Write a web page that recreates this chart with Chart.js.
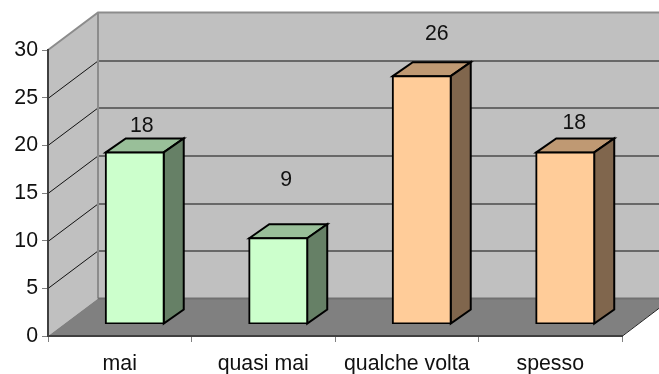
<!DOCTYPE html>
<html><head><meta charset="utf-8">
<script src="https://cdn.jsdelivr.net/npm/chart.js@4"></script>
<style>html,body{margin:0;padding:0;background:#fff}canvas{display:block}</style>
</head><body><canvas id="c" width="659" height="374"></canvas>
<script>
const categories = ["mai", "quasi mai", "qualche volta", "spesso"];
const values = [18, 9, 26, 18];
const frontColors = ["#CCFFCC", "#CCFFCC", "#FFCC99", "#FFCC99"];
const topColors = ["#99BF99", "#99BF99", "#BF9973", "#BF9973"];
const sideColors = ["#668066", "#668066", "#80664D", "#80664D"];
const labelLifts = [26, 58, 42, 29];
const labelShifts = [7, 8, 15, 9];

const wall = {dx: 50, dy: -37.5};
const barShift = {x: 15, y: -12};
const barDepth = {dx: 20, dy: -14};
const fontSize = 21.3;

function poly(ctx, pts, fill, stroke, lw) {
  ctx.beginPath();
  pts.forEach((p, i) => i ? ctx.lineTo(p[0], p[1]) : ctx.moveTo(p[0], p[1]));
  ctx.closePath();
  if (fill) { ctx.fillStyle = fill; ctx.fill(); }
  if (stroke) { ctx.strokeStyle = stroke; ctx.lineWidth = lw; ctx.lineJoin = 'miter'; ctx.stroke(); }
}

const box3d = {
  id: 'box3d',
  beforeDraw(chart) {
    const {ctx, chartArea: a, scales: {y}} = chart;
    const L = a.left, R = a.right, T = a.top, B = a.bottom, dx = wall.dx, dy = wall.dy;
    ctx.save();
    poly(ctx, [[L, T], [L + dx, T + dy], [L + dx, B + dy], [L, B]], '#C0C0C0');
    poly(ctx, [[L + dx, T + dy], [R + dx, T + dy], [R + dx, B + dy], [L + dx, B + dy]], '#C0C0C0');
    ctx.strokeStyle = '#111'; ctx.lineWidth = 1;
    y.ticks.forEach(t => {
      if (t.value === 0 || t.value === 30) return;
      const py = Math.round(y.getPixelForValue(t.value));
      ctx.beginPath();
      ctx.moveTo(L, py + 0.5); ctx.lineTo(L + dx, py + dy + 0.5); ctx.lineTo(R + dx, py + dy + 0.5);
      ctx.stroke();
    });
    ctx.strokeStyle = '#8C8C8C'; ctx.lineWidth = 2;
    ctx.beginPath();
    ctx.moveTo(L, T); ctx.lineTo(L + dx, T + dy); ctx.lineTo(R + dx, T + dy);
    ctx.moveTo(L + dx, T + dy); ctx.lineTo(L + dx, B + dy);
    ctx.stroke();
    poly(ctx, [[L, B], [R, B], [R + dx, B + dy], [L + dx, B + dy]], '#808080');
    ctx.strokeStyle = '#707070'; ctx.lineWidth = 2;
    ctx.beginPath(); ctx.moveTo(L + dx, B + dy); ctx.lineTo(R + dx, B + dy); ctx.stroke();
    ctx.strokeStyle = '#222'; ctx.lineWidth = 1;
    ctx.beginPath(); ctx.moveTo(R + 0.5, B); ctx.lineTo(R + dx, B + dy); ctx.stroke();
    ctx.restore();
  },
  beforeDatasetDraw(chart, args) {
    const {ctx} = chart;
    ctx.save();
    ctx.translate(barShift.x, barShift.y);
    const d = barDepth;
    args.meta.data.forEach((b, i) => {
      const l = b.x - b.width / 2, r = b.x + b.width / 2;
      poly(ctx, [[l, b.y], [l + d.dx, b.y + d.dy], [r + d.dx, b.y + d.dy], [r, b.y]], topColors[i], '#000', 2);
      poly(ctx, [[r, b.y], [r + d.dx, b.y + d.dy], [r + d.dx, b.base + d.dy], [r, b.base]], sideColors[i], '#000', 2);
    });
  },
  afterDatasetDraw(chart, args) {
    const {ctx} = chart;
    ctx.restore();
    ctx.save();
    ctx.font = fontSize + 'px "Liberation Sans"';
    ctx.fillStyle = '#111';
    ctx.textAlign = 'center';
    ctx.textBaseline = 'middle';
    args.meta.data.forEach((b, i) => {
      ctx.fillText(String(values[i]), b.x + barShift.x + labelShifts[i], b.y + barShift.y - labelLifts[i]);
    });
    ctx.restore();
  }
};

new Chart(document.getElementById('c'), {
  type: 'bar',
  data: {
    labels: categories,
    datasets: [{
      data: values,
      backgroundColor: frontColors,
      borderColor: '#000',
      borderWidth: 2,
      borderSkipped: false,
      inflateAmount: 1,
      barPercentage: 0.404,
      categoryPercentage: 1
    }]
  },
  plugins: [box3d],
  options: {
    responsive: false,
    animation: false,
    layout: {padding: {top: 50, right: 37, left: 0, bottom: 0}},
    plugins: {legend: {display: false}, tooltip: {enabled: false}},
    scales: {
      x: {
        offset: true,
        grid: {drawOnChartArea: false, drawTicks: true, tickLength: 6, color: '#808080', offset: true},
        border: {color: '#404040', width: 2},
        ticks: {color: '#111', padding: 9, maxRotation: 0, autoSkip: false, font: {family: '"Liberation Sans"', size: fontSize}},
        afterFit(s) { s.height = 38; }
      },
      y: {
        min: 0, max: 30,
        grid: {drawOnChartArea: false, drawTicks: true, tickLength: 6, color: '#808080'},
        border: {color: '#404040', width: 2},
        ticks: {stepSize: 5, color: '#111', padding: 4, font: {family: '"Liberation Sans"', size: fontSize}},
        afterFit(s) { s.width = 48; }
      }
    }
  }
});
</script></body></html>
